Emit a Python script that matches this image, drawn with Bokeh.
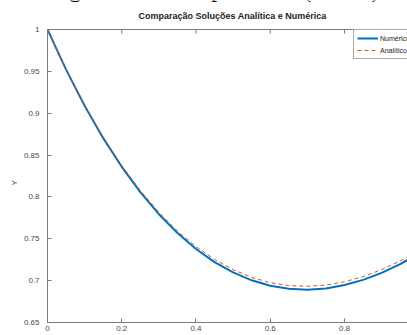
import math
from bokeh.plotting import figure
from bokeh.models import Label, FixedTicker, Legend, LegendItem, Range1d, Span, Title
from bokeh.embed import file_html
from bokeh.resources import INLINE

# Data
x_vals = [0.0, 0.05, 0.1, 0.15, 0.2, 0.25, 0.3, 0.35, 0.4, 0.45, 0.5,
          0.55, 0.6, 0.65, 0.7, 0.75, 0.8, 0.85, 0.9, 0.95, 1.0]
y_numerico = [1.0, 0.9521, 0.9089, 0.8702, 0.8360, 0.8057, 0.7794, 0.7569,
              0.7378, 0.7222, 0.7098, 0.7004, 0.6939, 0.6902, 0.6892, 0.6907,
              0.6947, 0.7009, 0.7093, 0.7198, 0.7322]
y_analitico = [1.0, 0.9525, 0.9097, 0.8714, 0.8375, 0.8076, 0.7816, 0.7594,
               0.7406, 0.7253, 0.7131, 0.7039, 0.6976, 0.6941, 0.6932, 0.6947,
               0.6987, 0.7048, 0.7131, 0.7235, 0.7358]
x_ticks = [0, 0.2, 0.4, 0.6, 0.8, 1.0]
y_ticks = [0.65, 0.7, 0.75, 0.8, 0.85, 0.9, 0.95, 1.0]
y_tick_labels = {0.65: "0.65", 0.7: "0.7", 0.75: "0.75", 0.8: "0.8",
                 0.85: "0.85", 0.9: "0.9", 0.95: "0.95", 1.0: "1"}
x_tick_labels = {0: "0", 0.2: "0.2", 0.4: "0.4", 0.6: "0.6", 0.8: "0.8", 1.0: "1"}
fig_title = "Figura 2 – Comparativo (h=0.1)"
plot_title = "Comparação Soluções Analítica e Numérica"
y_label = "Y"
series_names = ["Numérico", "Analítico"]

AX = "#7a7a7a"
TXT = "#4a4a4a"
FONT = "Liberation Sans"

# frame spans the full height above the axes box so the headings can sit there
y_lo, y_hi = 0.65, 1.0
top_px, frame_px = 29, 322
y_top = (y_hi - y_lo * top_px / frame_px) / (1 - top_px / frame_px)

p = figure(width=407, height=335, output_backend="svg", toolbar_location=None,
           x_range=Range1d(0, 0.9697), y_range=Range1d(y_lo, y_top),
           min_border_left=47, min_border_top=0, min_border_bottom=13,
           min_border_right=0)
p.grid.visible = False
p.outline_line_color = None
p.background_fill_color = "white"
p.border_fill_color = "white"

def style_axis(ax):
    ax.axis_line_color = AX
    ax.axis_line_width = 1
    ax.major_tick_line_color = AX
    ax.major_tick_in = 4
    ax.major_tick_out = 0
    ax.minor_tick_line_color = None
    ax.major_label_text_color = TXT
    ax.major_label_text_font = FONT
    ax.major_label_text_font_size = "8px"

xa = p.xaxis[0]
xa.ticker = FixedTicker(ticks=x_ticks)
xa.major_label_overrides = x_tick_labels
style_axis(xa)
xa.major_label_standoff = 3

ya = p.yaxis[0]
ya.ticker = FixedTicker(ticks=y_ticks)
ya.major_label_overrides = y_tick_labels
ya.bounds = (y_lo, y_hi)
style_axis(ya)
ya.major_label_standoff = 8

# y-axis caption, placed at the middle of the axes box (not the taller frame)
p.add_layout(Title(text=y_label, text_font=FONT, text_font_style="normal",
                   text_font_size="8px", text_color=TXT, align="left",
                   offset=137, standoff=4), "left")

# top edge of the axes box with inward ticks
p.add_layout(Span(location=y_hi, dimension="width", line_color=AX, line_width=1))
p.ray(x=x_ticks, y=[y_hi] * len(x_ticks), length=4, length_units="screen",
      angle=-math.pi / 2, line_color=AX, line_width=1)

r1 = p.line(x_vals, y_numerico, line_color="#0072BD", line_width=2)
r2 = p.line(x_vals, y_analitico, line_color="#D95319", line_width=1,
            line_dash="4 3")

leg = Legend(items=[LegendItem(label=series_names[0], renderers=[r1]),
                    LegendItem(label=series_names[1], renderers=[r2])],
             location=(306, 263))
leg.label_text_font = FONT
leg.label_text_font_size = "7px"
leg.label_text_color = "#222222"
leg.label_height = 10
leg.glyph_height = 10
leg.glyph_width = 21
leg.spacing = 2
leg.padding = 3
leg.margin = 0
leg.label_standoff = 2
leg.border_line_color = "#555555"
leg.border_line_width = 1
leg.background_fill_color = "white"
leg.background_fill_alpha = 1
p.add_layout(leg, "center")

p.add_layout(Label(x=232, y=15, x_units="canvas", y_units="canvas",
                   text=plot_title, text_font=FONT,
                   text_font_style="bold", text_font_size="9px",
                   text_color="#222222", text_align="center",
                   text_baseline="alphabetic"))
p.add_layout(Label(x=213, y=-12, x_units="canvas", y_units="canvas",
                   text=fig_title, text_font="Liberation Serif",
                   text_font_size="26px", text_color="black",
                   text_align="center", text_baseline="alphabetic"))

open("out.html", "w").write(file_html(p, INLINE))
